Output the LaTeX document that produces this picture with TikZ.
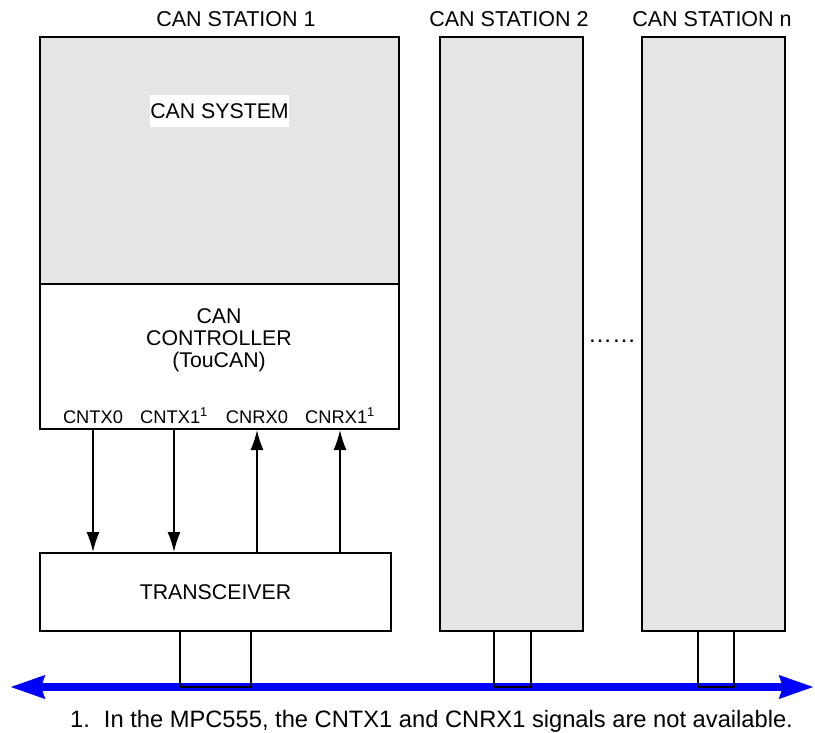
\documentclass[tikz,border=0pt]{standalone}
\usepackage{fontspec}
\setmainfont{Liberation Sans}
\usetikzlibrary{positioning,arrows.meta}
\definecolor{canGray}{RGB}{229,229,229}
\definecolor{canBlue}{RGB}{0,0,255}

\begin{document}
\begin{tikzpicture}[x=1pt, y=-1pt,
  stnbox/.style={draw=black, line width=2pt, fill=canGray, inner sep=0pt},
  ctlbox/.style={draw=black, line width=2pt, fill=white, inner sep=0pt,
                 font=\fontsize{21.3}{22}\selectfont},
  plugbox/.style={draw=black, line width=2pt, inner sep=0pt,
                  minimum height=56pt},
  stntitle/.style={font=\fontsize{21.5}{24}\selectfont, anchor=base,
                   inner sep=0pt},
  boxtext/.style={font=\fontsize{21.3}{22}\selectfont, align=center,
                  inner sep=0pt},
  siglabel/.style={font=\fontsize{18.3}{20}\selectfont, anchor=base,
                   inner sep=0pt},
  sigarr/.style={-{Latex[length=20pt,width=13pt]}, line width=1.6pt},
  busarr/.style={{Stealth[length=34pt,width=22pt,inset=3pt]}-{Stealth[length=34pt,width=22pt,inset=3pt]},
                 line width=7.5pt, canBlue}
]
\useasboundingbox (0,0) rectangle (815,732);
%% Stations
\node[stnbox, minimum width=359pt, minimum height=247pt] (sys1) at (219.5,160.5) {};
\node[ctlbox, minimum width=359pt, minimum height=145pt] (ctrl) at (219.5,356.5) {};
\node[stnbox, minimum width=143pt, minimum height=594pt] (stn2) at (511.5,334) {};
\node[stnbox, minimum width=143pt, minimum height=594pt] (stnN) at (713.5,334) {};
\node[ctlbox, minimum width=351pt, minimum height=78pt]  (trx)  at (215.5,592) {TRANSCEIVER};
%% Titles
\node[stntitle] (t1) at (236,26) {CAN STATION 1};
\node[stntitle] (t2) at (509,26) {CAN STATION 2};
\node[stntitle] (tN) at (712,26) {CAN STATION n};
%% Station 1 texts
\node[boxtext, fill=white, minimum height=32pt] (systxt) at (219.5,111) {CAN SYSTEM};
\node[boxtext] (ctrltxt) at (219,340) {CAN\\CONTROLLER\\(TouCAN)};
\node[siglabel] (tx0) at (93,423)  {CNTX0};
\node[siglabel] (tx1) at (174,423) {CNTX1\textsuperscript{1}};
\node[siglabel] (rx0) at (257,423) {CNRX0};
\node[siglabel] (rx1) at (340,423) {CNRX1\textsuperscript{1}};
\draw[sigarr] (tx0 |- ctrl.south) -- (tx0 |- trx.north);
\draw[sigarr] (tx1 |- ctrl.south) -- (tx1 |- trx.north);
\draw[sigarr] (rx0 |- trx.north) -- (rx0 |- ctrl.south);
\draw[sigarr] (rx1 |- trx.north) -- (rx1 |- ctrl.south);
\node[font=\fontsize{24}{24}\selectfont, inner sep=0pt] (dots) at (612,341) {……};
%% Bus
\coordinate (busL) at (10,687);
\coordinate (busR) at (814,687);
\draw[busarr] (busL) -- (busR);
\node[plugbox, minimum width=71pt] (plug1) at (215.5,659) {};
\node[plugbox, minimum width=37pt] (plug2) at (512.5,659) {};
\node[plugbox, minimum width=36pt] (plugN) at (716,659) {};
%% Footnote
\node[font=\fontsize{23.7}{26}\selectfont, anchor=base west, inner sep=0pt] (fnote) at (70,727)
  {1.\hskip 14pt In the MPC555, the CNTX1 and CNRX1 signals are not available.};
\end{tikzpicture}
\end{document}
